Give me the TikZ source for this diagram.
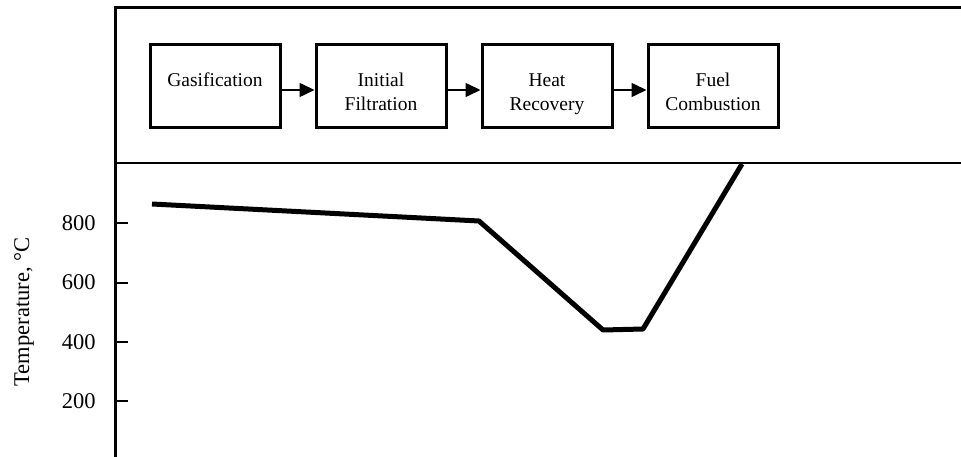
\documentclass[tikz,border=0pt]{standalone}
\usepackage{fontspec}
\setmainfont{Liberation Serif}
\usetikzlibrary{arrows.meta}
\newcommand{\stagetext}[2]{\raisebox{-12pt}[0pt][0pt]{\begin{tabular}{@{}c@{}}\strut #1\\\strut #2\end{tabular}}}
\tikzset{
    stage/.style={draw, line width=3pt, minimum width=130pt, minimum height=83pt, inner sep=0pt, font=\fontsize{19.5}{24}\selectfont},
    flow/.style={line width=1.5pt, -{Triangle[length=15pt, width=14pt]}},
    axislabel/.style={font=\fontsize{22.5}{27}\selectfont}
}
\begin{document}
\begin{tikzpicture}[x=1pt, y=-1pt]
    \useasboundingbox (0,0) rectangle (961,457);
    % frame and separator
    \draw[line width=3pt] (115.5,457) -- (115.5,8) -- (961,8);
    \draw[line width=2pt] (117,163) -- (961,163);
    % process stages
    \node[stage] (gas) at (215,86.5) {\stagetext{Gasification}{}};
    \node[stage] (filt) at (381,86.5) {\stagetext{Initial}{Filtration}};
    \node[stage] (heat) at (547,86.5) {\stagetext{Heat}{Recovery}};
    \node[stage] (fuel) at (713,86.5) {\stagetext{Fuel}{Combustion}};
    \draw[flow] ([yshift=-3.5pt]gas.east) -- ([yshift=-3.5pt]filt.west);
    \draw[flow] ([yshift=-3.5pt]filt.east) -- ([yshift=-3.5pt]heat.west);
    \draw[flow] ([yshift=-3.5pt]heat.east) -- ([yshift=-3.5pt]fuel.west);
    % temperature axis
    \foreach \t/\y in {800/223, 600/282.5, 400/342, 200/401}
        \draw[line width=2pt] (117,\y) -- (128,\y) node[axislabel, anchor=east] at (100,\y) {\t};
    \node[axislabel, rotate=90] (ylab) at (24,312) {Temperature, °C};
    % temperature profile
    \draw[line width=5pt, line join=bevel] (152,204) -- (479,221) -- (603,330) -- (643,329) -- (742,164);
\end{tikzpicture}
\end{document}
